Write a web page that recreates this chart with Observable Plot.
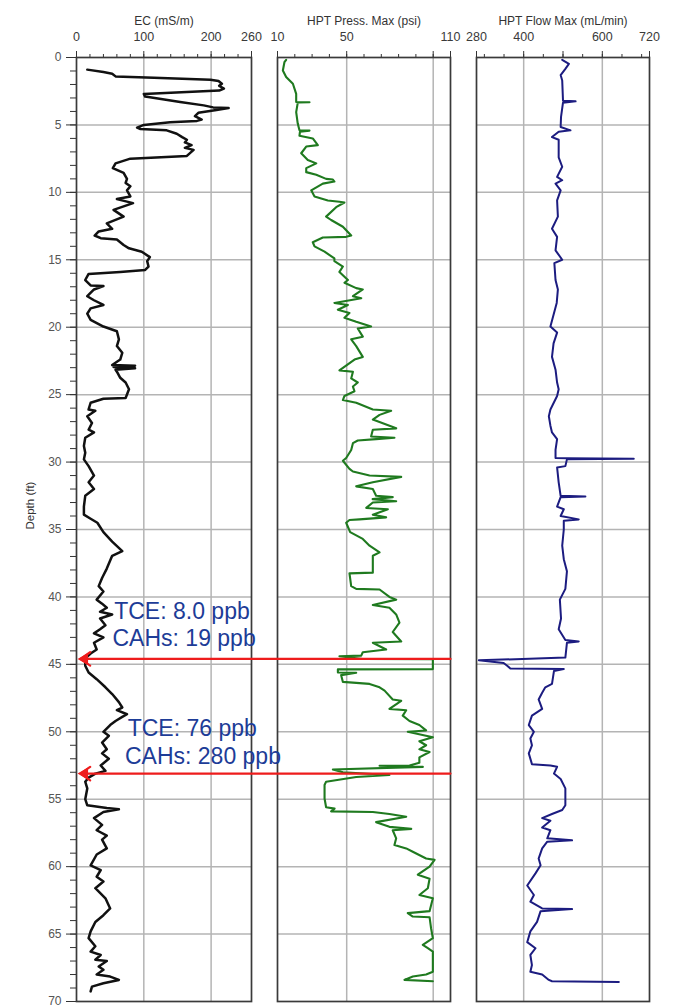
<!DOCTYPE html>
<html><head><meta charset="utf-8">
<script src="https://cdn.jsdelivr.net/npm/d3@7"></script>
<script src="https://cdn.jsdelivr.net/npm/@observablehq/plot@0.6"></script>
<style>
html,body{margin:0;padding:0;background:#fff;}
#chart{position:relative;width:677px;height:1008px;overflow:hidden;}
#chart svg{position:absolute;left:0;top:0;}
</style></head><body><div id="chart"></div>
<script>
// ---------- data ----------
const ecDepth = [0.9,1.08,1.2,1.4,1.5,1.65,1.75,1.95,2.1,2.3,2.45,2.7,2.9,3.3,3.55,3.7,3.75,3.9,4.1,4.35,4.6,4.7,4.8,5.0,5.2,5.3,5.4,5.65,5.9,6.1,6.3,6.5,6.7,6.85,7.3,7.5,7.85,8.2,8.55,9.0,9.3,9.55,9.85,10.3,10.5,10.8,11.3,11.8,12.3,12.7,12.9,13.2,13.4,13.5,13.9,14.15,14.4,14.8,15.1,15.5,15.75,15.9,16.05,16.5,16.9,16.95,17.2,17.7,18.0,18.35,18.6,19.0,19.45,19.95,20.3,20.9,21.4,21.9,22.4,22.8,22.85,22.95,23.05,23.15,23.3,23.75,24.1,24.6,25.25,25.3,25.6,26.1,26.2,26.6,27.1,27.6,27.8,28.2,28.8,29.3,29.8,30.3,31.0,31.5,32.0,32.5,33.3,33.9,34.2,34.5,35.2,35.9,36.6,36.95,37.9,38.6,39.2,39.6,40.2,40.5,40.8,41.1,41.3,41.6,42.1,42.4,42.7,43.0,43.4,43.9,44.2,44.55,45.1,45.6,46.1,46.7,47.2,47.8,48.2,48.4,48.7,48.9,49.2,49.5,50.0,50.3,50.8,51.3,51.6,52.0,52.5,52.9,53.1,53.4,53.7,54.2,55.0,55.45,55.65,55.75,55.95,56.4,56.9,57.3,57.7,58.0,58.65,59.1,59.9,60.25,60.75,61.1,61.6,62.35,63.1,63.6,64.1,64.8,65.3,65.9,66.3,66.55,66.9,67.0,67.4,67.65,68.0,68.15,68.4,68.65,68.9,69.25];
const ecValues = [16,40,53,58,115,199,211,216,212,219,212,100,102,154,189,203,226,208,181,176,186,179,139,100,90,95,134,149,157,164,161,171,161,174,164,80,58,54,70,75,73,80,75,80,60,84,55,70,45,53,33,27,36,60,70,78,97,109,105,107,102,65,18,13,21,40,26,16,26,40,21,16,21,40,60,63,60,68,65,53,87,55,87,58,60,65,73,78,73,40,21,18,28,16,23,18,26,13,11,13,11,18,26,18,26,13,11,11,21,31,40,53,68,53,45,38,33,40,30,38,45,35,53,35,43,35,26,40,26,30,21,13,13,18,30,43,53,63,68,60,75,68,58,50,40,48,38,45,38,48,36,43,28,18,13,16,13,16,45,63,40,26,38,30,45,38,45,30,21,36,30,40,28,43,50,40,28,21,18,28,21,36,28,45,33,40,30,50,63,40,23,21];

const pressDepth = [0.17,0.35,0.96,1.45,1.95,2.7,3.3,3.32,3.36,4.05,4.9,5.4,5.42,5.5,5.8,6.0,6.5,6.6,7.1,7.6,7.85,8.2,8.5,8.7,9.0,9.05,9.2,9.35,9.85,10.3,10.6,10.7,10.75,11.1,11.8,12.05,12.55,13.2,13.3,13.35,13.7,14.0,14.4,14.9,15.1,15.5,15.9,16.5,16.7,17.1,17.2,17.7,17.85,18.2,18.35,18.7,18.95,19.3,19.6,19.95,20.1,20.7,20.9,21.4,22.2,22.4,23.2,23.3,23.8,24.1,24.4,24.75,25.1,25.4,25.6,26.1,26.2,26.5,26.85,27.5,27.6,28.1,28.2,28.3,28.4,28.6,29.1,29.7,29.9,30.5,30.7,31.0,31.1,31.5,31.8,32.0,32.5,32.6,32.75,32.9,33.0,33.4,33.5,33.9,34.1,34.25,34.3,34.5,35.2,35.7,36.2,36.7,36.95,37.9,38.2,38.25,39.2,39.4,39.45,40.0,40.2,40.6,40.8,41.3,41.9,42.6,43.3,43.4,43.9,44.1,44.35,44.4,44.6,44.62,45.35,45.37,45.6,45.62,45.8,46.3,46.45,46.7,46.95,47.6,47.7,48.3,48.4,48.8,49.2,49.5,49.9,50.0,50.4,50.7,51.0,51.3,51.5,51.9,52.3,52.5,52.52,52.6,52.8,53.0,53.2,53.35,53.7,53.95,54.95,55.6,55.7,55.9,55.95,56.1,56.3,56.7,57.05,57.2,57.3,57.9,58.4,58.65,58.9,59.4,59.5,60.0,60.6,60.9,61.6,62.1,62.35,63.3,63.45,63.7,63.75,64.6,65.3,65.8,66.05,66.3,67.8,68.0,68.15,68.4,68.5];
const pressValues = [15,14,13.1,15,18.9,20.8,20.8,28.5,21.7,20.8,21.7,22.7,28.5,23,22.7,30.4,33.3,26.6,23.7,27.5,32.4,26.6,26.6,32.4,38.1,42,42.9,36.2,29.5,31.4,39.1,45.8,48.7,43.9,38.1,41,47.8,52.6,49.7,36.2,30.4,31.4,37.2,42.9,42.9,47.8,45.8,50.7,48.7,55.5,59.3,53.6,58.4,42.9,50.7,44.9,51.6,48.7,55.5,64.1,56.4,59.3,52.6,55.5,59.3,54.5,45.8,53.6,52.6,56.4,53.6,54.5,48.7,47.8,55.5,65.1,75.7,69,65.1,78.6,65.1,64.1,77.6,67,56.4,53.6,52.6,49.7,47.8,51.6,53.6,63.2,81.5,65.1,55.5,65.1,67,76.6,65,78.6,65.1,61.3,73.8,65.1,72.8,57.4,51.6,49.7,52,59.3,63.2,69,65.1,65.1,65.1,51.6,52.6,55.5,69,74.7,78.6,65.1,74.7,78.6,80.5,76.6,81.5,65.1,72.8,59.3,58.4,45.8,59.3,99.8,99.8,44.9,44.9,55.5,46.8,47.8,63.2,69,71.9,76.6,81.5,74.7,84.4,82.4,86.3,92,95.9,85.3,99.8,92,95.9,92,97.9,92,92,86.3,69,94,42,47.8,74.7,55.5,38.1,37.2,37.2,38.1,43,41,65.1,74.7,84.4,67,74.7,87.3,76.6,78.6,77.6,84.4,88.2,95.9,100.8,97.9,91.1,97.9,96.9,92,99.8,97.9,85.3,88.2,97.9,98.8,99.8,94,96.9,99.8,99.8,95.9,88.2,83.4,99.8];

const flowDepth = [0.17,0.47,0.84,1.3,1.7,3.2,3.25,3.35,4.4,5.15,5.4,5.5,5.9,6.1,7.4,8.1,8.85,9.1,9.35,9.85,10.6,11.8,12.7,13.3,14.3,15.0,15.25,16.5,17.2,18.2,19.95,20.4,21.2,22.2,23.15,24.1,24.6,25.1,26.1,26.6,27.3,27.8,28.3,29.1,29.7,29.72,29.75,29.8,30.3,30.4,31.5,32.5,32.55,32.6,33.3,33.5,34.0,34.25,34.35,35.0,36.2,37.2,38.1,39.4,40.2,41.6,42.4,43.2,43.3,43.4,44.5,44.7,44.9,45.1,45.3,45.35,45.5,46.45,46.7,47.1,47.6,48.3,48.8,49.5,50.0,50.5,51.0,51.6,52.4,52.5,52.6,53.1,53.5,54.2,55.45,55.8,56.1,56.4,56.6,57.1,57.3,57.9,58.05,58.15,58.65,59.4,59.9,60.5,61.4,62.1,62.6,63.1,63.15,63.3,64.1,64.8,65.6,66.05,66.55,67.3,67.8,68.0,68.4,68.5,68.55];
const flowValues = [498,515,506,494,498,500,532,500,495,494,519,489,472,489,489,498,485,498,481,494,485,487,472,485,481,498,478,481,487,484,468,485,476,472,481,485,489,485,468,464,468,472,485,481,481,510,680,510,506,485,489,494,557,494,485,502,494,540,502,502,498,502,510,506,492,495,489,506,540,510,506,286,349,358,366,502,477,472,455,447,438,447,421,413,426,417,421,413,421,468,485,477,494,506,506,498,472,447,468,447,468,460,523,460,447,438,443,430,409,426,417,447,523,443,434,417,409,430,417,421,417,447,464,472,642];

// axes / ticks
const depthLabels = [0,5,10,15,20,25,30,35,40,45,50,55,60,65,70];
const depthMinor = d3.range(0, 71, 1);
const ecDomain = [0, 260], ecLabels = [0,100,200,260], ecGrid = [100,200], ecMinor = d3.range(0, 261, 20), ecMajor = [0,100,200,260];
const pressDomain = [10, 110], pressLabels = [10,50,110], pressGrid = [50,100], pressMinor = d3.range(10, 111, 10), pressMajor = [10,50,100,110];
const flowDomain = [280, 720], flowLabels = [280,400,600,720], flowGrid = [400,600], flowMinor = d3.range(300, 701, 50), flowMajor = [280,400,500,600,720];

// annotations
const sampleDepths = [44.6, 53.1];
const arrowTipEC = 6;
const noteLabels = ["TCE: 8.0 ppb", "CAHs: 19 ppb", "TCE: 76 ppb", "CAHs: 280 ppb"];
const noteEC = [56, 53.5, 76, 72];
const noteDepth = [41.1, 43.1, 49.75, 51.85];

// ---------- drawing ----------
const FONT = '"Liberation Sans", Arial, Helvetica, sans-serif';
const W = 677, H = 1008;
const GRID = "#b4b4b4", FRAME = "#3a3a3a", RED = "#ee1c1c";
const depthGrid = depthLabels.filter(d => d > 0 && d < 70);

const ecData = ecDepth.map((d, i) => ({d, v: ecValues[i]}));
const pressData = pressDepth.map((d, i) => ({d, v: pressValues[i]}));
const flowData = flowDepth.map((d, i) => ({d, v: flowValues[i]}));
const notes = noteLabels.map((label, i) => ({label, ec: noteEC[i], depth: noteDepth[i]}));

function panel(o) {
  const marks = [
    Plot.gridY(depthGrid, {stroke: GRID, strokeOpacity: 1, strokeWidth: 1.5}),
    Plot.gridX(o.grid, {stroke: GRID, strokeOpacity: 1, strokeWidth: 1.5}),
    Plot.axisX(o.minor, {anchor: "top", tickSize: 4, tickFormat: () => "", label: null, stroke: "#333"}),
    Plot.axisX(o.major, {anchor: "top", tickSize: 7, tickFormat: () => "", label: null, stroke: "#333"}),
    Plot.axisX(o.labels, {anchor: "top", tickSize: 0, tickPadding: 17, label: null, fill: "#3a3a3a", fontSize: 12.5}),
    Plot.text([o.title], {frameAnchor: "top", dy: -41, fontSize: 12, fill: "#333"}),
    Plot.line(o.data, {x: "v", y: "d", stroke: o.color, strokeWidth: o.sw, strokeLinejoin: "round"}),
    Plot.frame({stroke: FRAME, strokeWidth: 1.7}),
    ...(o.extra || [])
  ];
  return Plot.plot({
    width: W, height: H,
    marginTop: 57, marginBottom: 7, marginLeft: o.left, marginRight: W - o.right,
    style: {background: "transparent", fontFamily: FONT, fontSize: "12.5px", color: "#444", overflow: "visible"},
    x: {domain: o.domain},
    y: {domain: [0, 70], reverse: true, axis: null},
    marks
  });
}

const ecCfg = {data: ecData, color: "#111", sw: 2.5, domain: ecDomain, left: 76, right: 251, title: "EC (mS/m)", grid: ecGrid, labels: ecLabels, minor: ecMinor, major: ecMajor};
const pressCfg = {data: pressData, color: "#1f7a1f", sw: 2.1, domain: pressDomain, left: 277, right: 450, title: "HPT Press. Max (psi)", grid: pressGrid, labels: pressLabels, minor: pressMinor, major: pressMajor};
const flowCfg = {data: flowData, color: "#1c1c80", sw: 2, domain: flowDomain, left: 476, right: 649, title: "HPT Flow Max (mL/min)", grid: flowGrid, labels: flowLabels, minor: flowMinor, major: flowMajor};

const flowFig = panel(flowCfg);
const pressFig = panel(pressCfg);
const ecBase = panel(ecCfg);
const ecX = ecBase.scale("x");
const pressX = pressFig.scale("x");
const tailEC = ecX.invert(pressX.apply(pressDomain[1]));

const ecFig = panel({...ecCfg, extra: [
  Plot.axisY(depthMinor, {anchor: "left", tickSize: 6, tickFormat: () => "", label: null, stroke: "#333"}),
  Plot.axisY(depthLabels, {anchor: "left", tickSize: 10, tickPadding: 5, label: null, fill: "#555", fontSize: 12, stroke: "#333"}),
  Plot.text(["Depth (ft)"], {frameAnchor: "left", rotate: -90, dx: -46, fontSize: 11.5, fill: "#333"}),
  Plot.arrow(sampleDepths, {x1: () => tailEC, x2: () => arrowTipEC, y1: d => d, y2: d => d, stroke: RED, strokeWidth: 2.2, headLength: 8, headAngle: 70}),
  Plot.dot(sampleDepths, {x: () => arrowTipEC, y: d => d, symbol: "triangle", rotate: -90, r: 4.5, fill: RED, stroke: "none", dx: 4}),
  Plot.text(notes, {x: "ec", y: "depth", text: "label", textAnchor: "start", fontSize: 23, fill: "#1d3c97"})
]});

const chart = document.getElementById("chart");
chart.append(flowFig, pressFig, ecFig);
</script>
</body></html>
